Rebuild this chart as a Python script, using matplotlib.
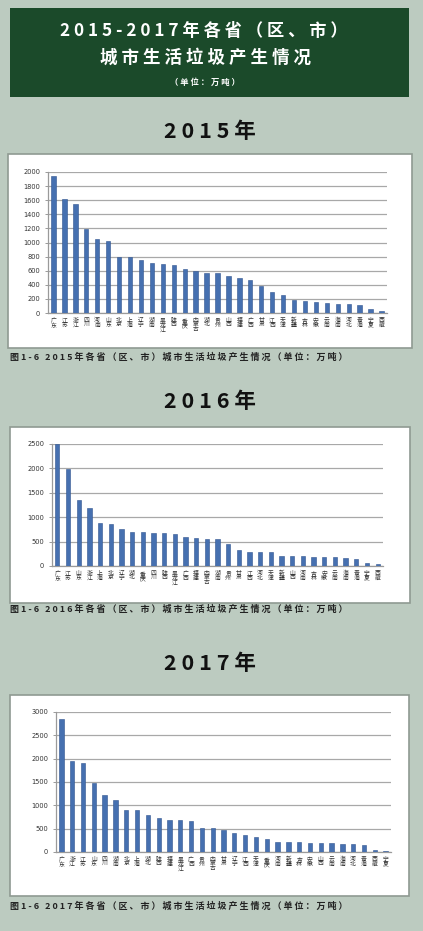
import matplotlib
matplotlib.use('Agg')
import matplotlib.pyplot as plt
from matplotlib.patches import Rectangle

plt.rcParams['font.family'] = ['Noto Sans CJK SC', 'DejaVu Sans']

W, H = 423, 931

# --- data (万吨) ---
prov_2015 = ['广东', '江苏', '浙江', '四川', '河南', '山东', '北京', '上海', '辽宁', '湖南', '黑龙江',
             '陕西', '重庆', '内蒙古', '湖北', '贵州', '山西', '福建', '广西', '甘肃', '江西', '天津',
             '新疆', '吉林', '安徽', '云南', '海南', '河北', '青海', '宁夏', '西藏']
waste_2015 = [1940, 1615, 1550, 1185, 1045, 1015, 790, 790, 748, 706, 688,
              674, 627, 595, 562, 562, 525, 492, 464, 380, 296, 249,
              188, 165, 155, 146, 127, 127, 109, 53, 25]

prov_2016 = ['广东', '江苏', '山东', '浙江', '上海', '北京', '辽宁', '湖北', '重庆', '四川', '陕西',
             '黑龙江', '广西', '福建', '内蒙古', '湖南', '贵州', '甘肃', '江西', '河北', '天津',
             '新疆', '山西', '河南', '吉林', '安徽', '云南', '海南', '青海', '宁夏', '西藏']
waste_2016 = [2510, 1990, 1355, 1185, 880, 870, 750, 705, 705, 680, 672,
              660, 592, 572, 558, 552, 445, 338, 290, 290, 278,
              200, 196, 196, 190, 176, 176, 162, 136, 68, 40]

prov_2017 = ['广东', '浙江', '江苏', '山东', '四川', '湖南', '北京', '上海', '湖北', '陕西', '福建',
             '黑龙江', '广西', '贵州', '内蒙古', '甘肃', '辽宁', '江西', '天津', '重庆', '河南',
             '新疆', '吉林', '安徽', '山西', '云南', '海南', '河北', '青海', '西藏', '宁夏']
waste_2017 = [2860, 1960, 1910, 1480, 1230, 1110, 910, 910, 795, 720, 685,
              685, 670, 520, 505, 470, 413, 365, 315, 280, 215,
              215, 215, 200, 200, 195, 180, 180, 158, 45, 30]

title_1 = '2015-2017年各省（区、市）'
title_2 = '城市生活垃圾产生情况'
title_3 = '（单位：万吨）'
caption_tpl = '图1-6 {}年各省（区、市）城市生活垃圾产生情况（单位：万吨）'

BG = '#bccbc0'
GREEN = '#1b4a2a'
BAR = '#4670b0'


def spread(s):
    return ' '.join(list(s))


fig = plt.figure(figsize=(W / 100, H / 100), dpi=100)
fig.patch.set_facecolor(BG)

bg = fig.add_axes([0, 0, 1, 1])
bg.set_xlim(0, W)
bg.set_ylim(H, 0)
bg.axis('off')

# banner
bg.add_patch(Rectangle((10, 8), 399, 89, facecolor=GREEN, edgecolor='none'))
bg.text(204, 31, spread(title_1), color='white', fontsize=12.4, weight='bold', ha='center', va='center')
bg.text(205, 58, spread(title_2), color='white', fontsize=12.6, weight='bold', ha='center', va='center')
bg.text(205, 82, spread(title_3), color='white', fontsize=6, weight='bold', ha='center', va='center')


def px_axes(x0, y0, x1, y1):
    return fig.add_axes([x0 / W, 1 - y1 / H, (x1 - x0) / W, (y1 - y0) / H])


def draw_chart(year, names, values, ymax, step, box, plot, head_y, cap_y):
    bx0, by0, bx1, by1 = box
    bg.add_patch(Rectangle((bx0, by0), bx1 - bx0, by1 - by0, facecolor='white',
                           edgecolor='#8f9a92', lw=1.2))
    bg.text(210, head_y, spread(f'{year}年'), color='#111111', fontsize=15.5, weight='bold',
            ha='center', va='center')
    bg.text(10, cap_y, spread(caption_tpl.format(year)), color='#222222', fontsize=6.5,
            weight='bold', ha='left', va='center')

    ax = px_axes(*plot)
    ax.patch.set_alpha(0)
    n = len(values)
    ax.bar(range(n), values, width=0.4, color=BAR, edgecolor='#30548f', lw=0.4, zorder=3)
    ax.set_xlim(-0.5, n - 0.5)
    ax.set_ylim(0, ymax)
    ax.set_yticks(range(0, ymax + 1, step))
    ax.yaxis.grid(True, color='#a8a8a8', lw=0.9, zorder=0)
    ax.set_axisbelow(True)
    for s in ['top', 'right']:
        ax.spines[s].set_visible(False)
    for s in ['left', 'bottom']:
        ax.spines[s].set_color('#9a9a9a')
        ax.spines[s].set_linewidth(0.9)
    ax.set_xticks(range(n))
    ax.set_xticklabels(['\n'.join(nm) for nm in names], fontsize=4.2, color='#333333',
                       linespacing=0.85, va='top')
    ax.tick_params(axis='x', length=0, pad=3.5)
    ax.tick_params(axis='y', length=2.5, width=0.7, color='#9a9a9a', pad=3,
                   labelsize=4.8, labelcolor='#333333')
    for lab in ax.get_yticklabels():
        lab.set_family('DejaVu Sans')


draw_chart(2015, prov_2015, waste_2015, 2000, 200,
           (8, 154, 412, 348), (48, 172, 387, 313), 131, 357)
draw_chart(2016, prov_2016, waste_2016, 2500, 500,
           (10, 427, 410, 603), (52, 444, 383, 566), 402, 609)
draw_chart(2017, prov_2017, waste_2017, 3000, 500,
           (10, 695, 409, 896), (56, 712, 391, 852), 663, 906)

fig.savefig('out.png', dpi=100, facecolor=fig.get_facecolor())
